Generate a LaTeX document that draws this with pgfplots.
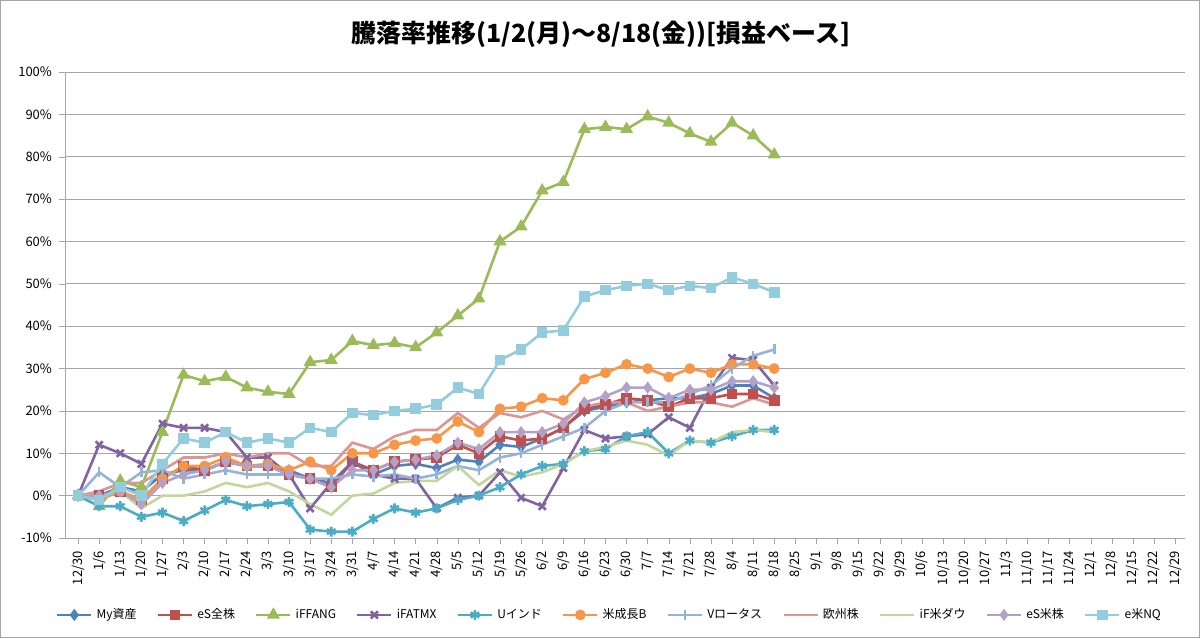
\documentclass[border=0pt]{standalone}
\usepackage{pgfplots}
\usepackage{pgfplotstable}
\pgfplotsset{compat=1.18}
\usepackage{fontspec}
\setmainfont{Noto Sans CJK JP}
\definecolor{cA}{HTML}{4F81BD}
\definecolor{cB}{HTML}{C0504D}
\definecolor{cC}{HTML}{9BBB59}
\definecolor{cD}{HTML}{8064A2}
\definecolor{cE}{HTML}{4BACC6}
\definecolor{cF}{HTML}{F79646}
\definecolor{cG}{HTML}{95B3D7}
\definecolor{cH}{HTML}{D99694}
\definecolor{cI}{HTML}{C3D69B}
\definecolor{cJ}{HTML}{B3A2C7}
\definecolor{cK}{HTML}{93CDDD}
\pgfplotstableread{
i my es ff fm ui gb vr eu dw us nq
0 0 0 0 0 0 0 0 0 0 0 0
1 0 0 -2.5 12 -2.5 -1 5.5 1 0 0 -1
2 2 1 3.5 10 -2.5 1 2 3 1 1 2
3 1 -1 2 7.5 -5 -1 5.5 3 -3 -2 0
4 5 4 15 17 -4 4 6 6 0 3 7.5
5 6 7 28.5 16 -6 7 4 9 0 5 13.5
6 6 6 27 16 -3.5 7 5 9 1 6 12.5
7 8 8 28 15 -1 9 6 10 3 8 15
8 7 7 25.5 9 -2.5 7 5 9 2 7 12.5
9 7 7 24.5 9 -2 7.5 5 10 3 7 13.5
10 6 5 24 5 -1.5 6 5 10 1 5 12.5
11 4 4 31.5 -3 -8 8 4 7 -2 4 16
12 3 2 32 3 -8.5 6 4 7 -4.5 2 15
13 8 8 36.5 8 -8.5 10 5 12.5 0 6 19.5
14 5 6 35.5 5 -5.5 10 4.5 11 0.5 6 19
15 7 8 36 4 -3 12 5 14 3 8 20
16 7.5 8.5 35 4 -4 13 4 15.5 3.5 8.5 20.5
17 6.5 9 38.5 -3 -3 13.5 5 15.5 3.5 9.5 21.5
18 8.5 12 42.5 -0.5 -1 17.5 7 19.5 7 12.5 25.5
19 8 10 46.5 0 0 15 6 16 2.5 11 24
20 12 14 60 5.5 2 20.5 9 19.5 6 15 32
21 11.5 13 63.5 -0.5 5 21 10 18.5 4.5 15 34.5
22 13.5 13.5 72 -2.5 7 23 12 20 5.5 15 38.5
23 16 16 74 6.5 7.5 22.5 14 18 7.5 17 39
24 20 20.5 86.5 15.5 10.5 27.5 16 21 10.5 22 47
25 21 21.5 87 13.5 11 29 20 22 11.5 23.5 48.5
26 22 23 86.5 14 14 31 22 22 13 25.5 49.5
27 22.5 22.5 89.5 14.5 15 30 22 20 12 25.5 50
28 23 21 88 18.5 10 28 22 21 9.5 23 48.5
29 23 23 85.5 16 13 30 24 22 13 25 49.5
30 24 23 83.5 25.5 12.5 29 26 22 12.5 25 49
31 26 24 88 32.5 14 31 30 21 15 27 51.5
32 26 24 85 32 15.5 31 33 23 15.5 27 50
33 23 22.5 80.5 26 15.5 30 34.5 21.5 15 25.5 48
}\data
\begin{document}
\begin{tikzpicture}
\useasboundingbox (-32.5pt,-50pt) rectangle (567.5pt,269pt);
\draw[gray!70] (-32.2pt,-49.7pt) rectangle (567.2pt,268.7pt);
\node[font=\bfseries\fontsize{12.5}{14}\selectfont] at (268pt,252pt) {騰落率推移(1/2(月)～8/18(金))[損益ベース]};
\begin{axis}[
 at={(0,0)}, anchor=south west, scale only axis,
 width=560pt, height=233pt,
 xmin=-0.62, xmax=52.47, ymin=-10, ymax=100,
 xtick={0,...,52},
 xticklabels={12/30,1/6,1/13,1/20,1/27,2/3,2/10,2/17,2/24,3/3,3/10,3/17,3/24,3/31,4/7,4/14,4/21,4/28,5/5,5/12,5/19,5/26,6/2,6/9,6/16,6/23,6/30,7/7,7/14,7/21,7/28,8/4,8/11,8/18,8/25,9/1,9/8,9/15,9/22,9/29,10/6,10/13,10/20,10/27,11/3,11/10,11/17,11/24,12/1,12/8,12/15,12/22,12/29},
 x tick label style={rotate=90, anchor=east, font=\fontsize{6.5}{7}\selectfont},
 ytick={-10,0,...,100},
 yticklabel={\pgfmathprintnumber{\tick}\%},
 y tick label style={font=\fontsize{6.5}{7}\selectfont},
 /pgf/number format/assume math mode=true,
 ymajorgrids, major grid style={gray!70},
 axis x line*=bottom, axis y line*=left,
 axis line style={gray!70}, tick style={gray!70},
 xtick pos=bottom, ytick pos=left,
 tick align=outside, major tick length=3pt,
 legend columns=11,
 legend style={at={(0.487,-0.165)}, anchor=center, draw=none, fill=none, font=\fontsize{6}{7}\selectfont, /tikz/every even column/.append style={column sep=8pt}},
 every axis plot/.append style={line width=1.3pt, mark size=2pt},
]
\addplot[cA, mark=diamond*] table[x=i,y=my]{\data};
\addlegendentry{My資産}
\addplot[cB, mark=square*] table[x=i,y=es]{\data};
\addlegendentry{eS全株}
\addplot[cC, mark=triangle*, mark size=2.5pt] table[x=i,y=ff]{\data};
\addlegendentry{iFFANG}
\addplot[cD, mark=x, mark size=2.5pt] table[x=i,y=fm]{\data};
\addlegendentry{iFATMX}
\addplot[cE, mark=asterisk, mark size=2.5pt] table[x=i,y=ui]{\data};
\addlegendentry{Uインド}
\addplot[cF, mark=*] table[x=i,y=gb]{\data};
\addlegendentry{米成長B}
\addplot[cG, mark=|, mark size=2.5pt] table[x=i,y=vr]{\data};
\addlegendentry{Vロータス}
\addplot[cH, no marks] table[x=i,y=eu]{\data};
\addlegendentry{欧州株}
\addplot[cI, no marks] table[x=i,y=dw]{\data};
\addlegendentry{iF米ダウ}
\addplot[cJ, mark=diamond*] table[x=i,y=us]{\data};
\addlegendentry{eS米株}
\addplot[cK, mark=square*] table[x=i,y=nq]{\data};
\addlegendentry{e米NQ}
\end{axis}
\end{tikzpicture}
\end{document}
